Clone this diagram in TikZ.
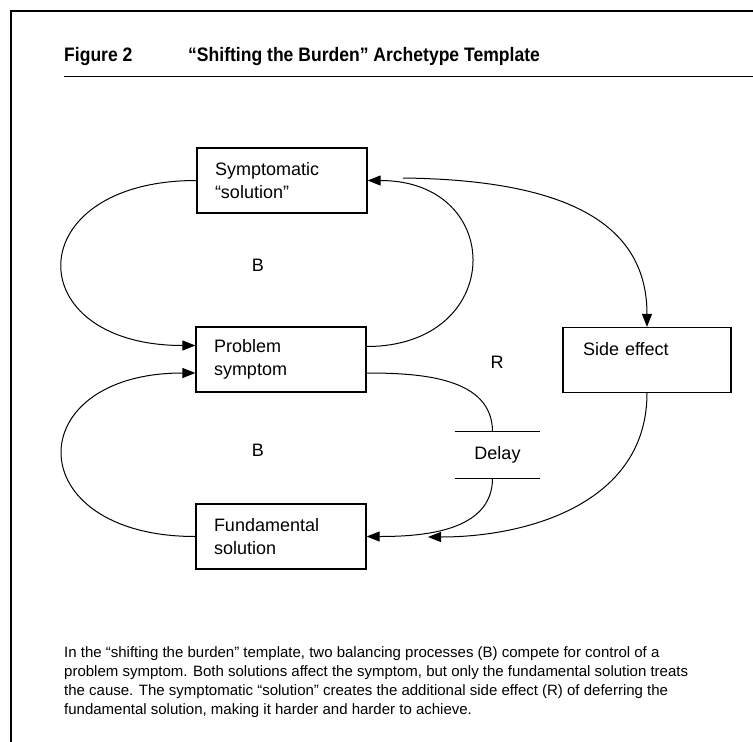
\documentclass[tikz,border=0pt]{standalone}
\usepackage{fontspec}
\setmainfont{Liberation Sans}
\newfontfamily\titlefont{Liberation Sans}[FakeStretch=0.9]
\usetikzlibrary{arrows.meta,positioning}

\begin{document}
\begin{tikzpicture}[x=1pt,y=-1pt,
    stock/.style={draw, line width=1.2pt, text width=134pt, inner xsep=18pt, inner ysep=0pt,
        minimum height=65pt, align=left, font=\fontsize{18}{23}\selectfont},
    link/.style={line width=1pt, -{Triangle[length=13pt,width=10pt]}},
    loopname/.style={font=\fontsize{18}{23}\selectfont}]
    \useasboundingbox (0,0) rectangle (753,742);

    % Frame and title
    \draw[line width=2.5pt] (11,742) -- (11,11) -- (753,11);
    \node[anchor=base west, inner sep=0, font=\titlefont\fontsize{19.5}{22}\selectfont\bfseries] (fig) at (64,61) {Figure 2};
    \node[anchor=base west, inner sep=0, font=\titlefont\fontsize{19.5}{22}\selectfont\bfseries] (title) at (188,61) {“Shifting the Burden” Archetype Template};
    \draw[line width=1pt] (64,76) -- (753,76);

    % Stocks
    \node[stock] (sym) at (282,180.5) {Symptomatic\\“solution”};
    \node[stock] (prob) at (281,359.5) {Problem\\symptom};
    \node[stock] (fund) at (281,536.5) {Fundamental\\solution};
    \node[stock, text width=128pt, inner xsep=20pt] (side) at (647,360) {Side effect\\\mbox{}};

    % Delay
    \node[inner sep=0, minimum width=84pt, minimum height=46pt, font=\fontsize{18}{23}\selectfont] (delay) at (497.5,455) {Delay};
    \draw[line width=1pt] (delay.north west) -- (delay.north east);
    \draw[line width=1pt] (delay.south west) -- (delay.south east);

    % Loop labels
    \node[loopname] (b1) at (258,265) {B};
    \node[loopname] (r) at (497,362) {R};
    \node[loopname] (b2) at (258,450) {B};

    % Upper balancing loop
    \draw[link] (sym.west) .. controls +(-178,0) and +(-178,0) .. ([yshift=14pt]prob.west);
    \draw[link] ([yshift=13pt]prob.east) .. controls +(139,0) and +(139,0) .. (sym.east);

    % Lower balancing loop
    \draw[link] (fund.west) .. controls +(-177,0) and +(-177,0) .. ([yshift=-13.5pt]prob.west);
    \draw[line width=1pt] ([yshift=-13.5pt]prob.east) to[out=0,in=90] ([xshift=-5pt]delay.north);
    \draw[link] ([xshift=-5pt]delay.south) to[out=-90,in=0] (fund.east);

    % Side effect
    \coordinate (tap) at (403,178);
    \coordinate (fin) at (428,537);
    \draw[link] (tap) .. controls +(170,2) and +(0,-100) .. (side.north);
    \draw[link] (side.south) .. controls +(0,110) and +(100,0) .. (fin);

    % Caption
    \node[anchor=north west, inner sep=0, align=left, font=\fontsize{15}{19}\selectfont] (caption) at (64,646)
        {In the “shifting the burden” template, two balancing processes (B) compete for control of a\\
         problem symptom. Both solutions affect the symptom, but only the fundamental solution treats\\
         the cause. The symptomatic “solution” creates the additional side effect (R) of deferring the\\
         fundamental solution, making it harder and harder to achieve.};
\end{tikzpicture}
\end{document}
